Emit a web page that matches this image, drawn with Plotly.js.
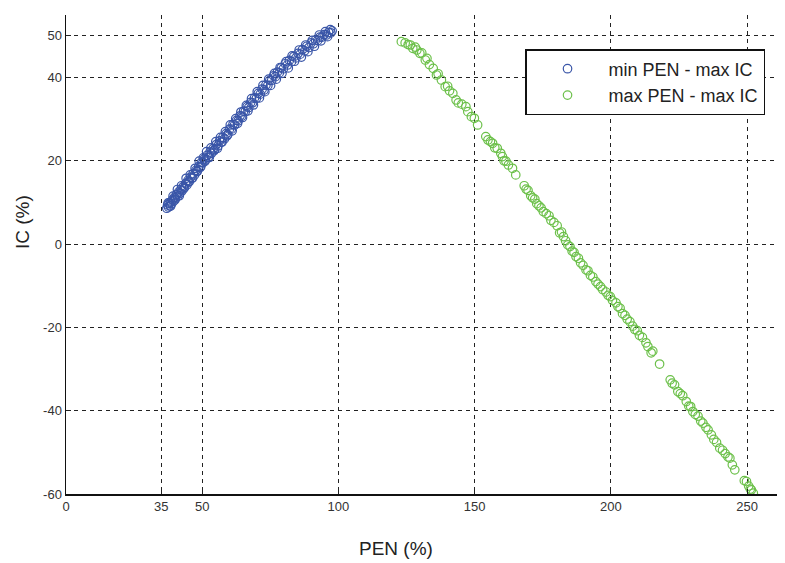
<!DOCTYPE html>
<html>
<head>
<meta charset="utf-8">
<script src="https://cdn.plot.ly/plotly-3.0.1.min.js"></script>
<style>html,body{margin:0;padding:0;background:#fff;}#chart{width:785px;height:563px;}</style>
</head>
<body>
<div id="chart"></div>
<script>
var seriesNames = ["min PEN - max IC", "max PEN - max IC"];

var blueX = [37.0,37.3,37.6,37.9,38.2,38.5,38.8,39.1,39.5,39.8,40.2,40.6,41.0,41.4,41.8,42.2,42.6,43.0,43.5,43.9,44.4,44.8,45.3,45.8,46.2,46.7,47.2,47.7,48.2,48.7,49.2,49.7,50.2,50.7,51.2,51.8,52.3,52.9,53.4,54.0,54.6,55.2,55.8,56.4,57.0,57.6,58.2,58.8,59.4,60.0,60.7,61.3,61.9,62.6,63.2,63.9,64.5,65.2,65.8,66.5,67.1,67.8,68.5,69.2,69.9,70.6,71.3,72.0,72.7,73.4,74.1,74.8,75.5,76.2,76.9,77.6,78.3,79.0,79.8,80.5,81.3,82.0,82.8,83.6,84.4,85.2,86.0,86.8,87.6,88.4,89.2,90.0,90.8,91.6,92.4,93.2,94.0,94.8,95.6,96.4,97.2,97.7,
  37.5,38.4,39.3,40.0,40.9,41.6,42.4,43.2,44.1,44.9,45.6,46.5,47.4,48.0,48.9,49.5,50.4,51.0,51.6,52.6,53.2,54.3,55.0,55.6,56.7,57.3,58.5,59.1,60.3,61.0,62.3,63.0,64.2,64.8,66.2,66.8,68.1,68.8,70.2,71.0,72.3,73.0,74.4,75.1,76.5,77.2,78.6,79.3,80.8,81.6,83.0,83.9,85.6,86.4,88.0,88.8,90.4,91.2,93.0,93.6,95.2,96.0,97.0];
var blueY = [8.6,9.4,8.9,9.8,9.2,10.1,9.7,10.6,10.3,11.2,11.0,11.9,11.5,12.5,12.2,13.1,12.8,13.8,13.6,14.5,14.2,15.3,15.0,16.1,15.8,16.9,16.6,17.7,17.5,18.6,18.4,19.6,19.5,20.4,20.2,21.3,20.9,22.1,21.8,22.9,22.7,23.9,23.6,24.8,24.5,25.6,25.3,26.5,26.3,27.6,27.6,28.7,28.6,29.7,29.6,30.8,30.7,31.9,31.8,33.0,32.8,34.0,33.9,35.1,35.0,36.2,36.0,37.2,37.0,38.2,38.1,39.3,39.3,40.4,40.2,41.3,41.1,42.3,42.1,43.3,43.0,44.1,43.8,45.0,44.7,45.8,45.6,46.7,46.4,47.5,47.2,48.3,48.1,49.0,48.9,49.7,49.7,50.3,50.2,50.8,50.7,51.2,
  9.9,9.1,11.5,10.6,13.1,11.6,14.0,13.3,15.8,14.9,16.6,15.9,18.2,17.4,19.9,18.6,20.7,19.9,22.2,20.8,23.1,22.4,24.6,23.0,25.6,24.5,27.0,26.0,28.6,27.2,30.1,29.0,31.7,30.4,33.3,32.0,34.9,33.4,36.6,35.1,38.1,36.6,39.6,38.1,41.0,39.6,42.4,41.0,43.8,42.3,45.2,43.9,46.6,44.9,47.8,46.2,48.9,47.5,50.2,48.8,51.0,49.8,51.5];

var greenX = [123.1,124.5,125.6,126.4,127.3,128.2,128.8,129.9,130.6,131.9,132.5,133.4,134.8,136.0,136.6,137.8,139.2,140.1,140.8,142.0,143.2,144.0,145.3,146.8,147.5,148.8,149.9,151.1,154.1,154.9,155.8,156.6,157.4,158.3,159.6,160.2,160.8,161.5,162.4,163.9,165.1,168.2,168.9,169.6,170.6,171.3,172.1,172.8,173.6,174.4,175.2,176.3,177.3,178.0,179.1,180.3,181.2,181.9,182.6,183.4,184.2,185.0,185.8,186.5,187.2,188.1,188.9,189.8,190.9,191.6,192.5,193.4,194.5,195.3,196.2,197.0,198.2,199.0,199.8,200.6,201.9,202.6,203.4,204.3,205.2,206.0,207.0,208.0,208.8,209.7,210.5,211.6,212.9,213.6,214.8,215.4,217.9,221.8,222.5,223.4,224.6,225.5,226.4,227.7,228.6,229.3,230.1,231.0,232.0,233.0,233.8,234.9,235.7,236.9,237.8,238.8,240.0,241.0,242.0,243.0,243.7,244.6,245.5,249.0,249.8,250.6,251.2,251.6,252.3];
var greenY = [48.6,48.3,47.9,47.8,47.0,47.3,46.6,45.8,45.9,44.2,44.6,43.1,42.2,40.6,40.9,39.4,37.8,37.9,36.8,36.2,34.6,33.9,33.6,33.0,31.8,30.6,30.2,28.6,25.8,25.0,24.6,24.2,23.1,23.0,21.8,21.0,20.0,19.9,19.0,18.2,16.6,14.0,13.2,12.9,11.6,11.1,10.8,9.7,9.2,8.7,7.8,7.3,6.8,5.7,5.2,4.4,2.7,2.9,1.8,0.8,-0.2,-0.6,-1.7,-2.0,-3.0,-3.4,-4.5,-5.1,-6.2,-6.4,-7.5,-7.9,-9.0,-9.6,-10.2,-10.9,-11.5,-12.3,-12.6,-13.5,-14.1,-15.0,-15.4,-16.7,-17.1,-18.0,-18.6,-19.7,-20.5,-20.8,-21.9,-22.4,-23.7,-24.6,-26.1,-25.7,-28.8,-32.6,-33.4,-33.8,-35.4,-35.9,-36.4,-37.8,-38.9,-39.0,-40.2,-40.9,-41.3,-42.5,-43.0,-44.0,-44.6,-45.8,-46.9,-47.6,-49.0,-49.5,-50.3,-51.1,-51.4,-53.0,-54.2,-56.8,-57.0,-58.1,-58.8,-59.0,-59.8];

var xTicks = [0, 35, 50, 100, 150, 200, 250];
var yTicks = [-60, -40, -20, 0, 20, 40, 50];
var xTitle = "PEN (%)";
var yTitle = "IC (%)";

var blueColor = "#3a56a8";
var greenColor = "#6cc04a";
var fontFam = "Liberation Sans, Arial, sans-serif";

var traces = [
  {x: blueX, y: blueY, type: "scatter", mode: "markers", name: seriesNames[0],
   marker: {symbol: "circle-open", size: 8.5, color: blueColor, line: {width: 1.2, color: blueColor}}},
  {x: greenX, y: greenY, type: "scatter", mode: "markers", name: seriesNames[1],
   marker: {symbol: "circle-open", size: 8.5, color: greenColor, line: {width: 1.2, color: greenColor}}}
];

var axisCommon = {
  showline: true, linecolor: "#111", linewidth: 1.5, mirror: false,
  showgrid: true, gridcolor: "#222", gridwidth: 1, griddash: "4px,4px",
  zeroline: false, ticks: "inside", ticklen: 5, tickcolor: "#222",
  tickfont: {family: fontFam, size: 13, color: "#333"},
  tickmode: "array", fixedrange: true
};

var layout = {
  width: 785, height: 563,
  margin: {l: 66, r: 8, t: 15, b: 69},
  paper_bgcolor: "#fff", plot_bgcolor: "#fff",
  showlegend: true,
  xaxis: Object.assign({}, axisCommon, {range: [0, 261], tickvals: xTicks, ticktext: xTicks.map(String)}),
  yaxis: Object.assign({}, axisCommon, {range: [-60, 55], tickvals: yTicks, ticktext: yTicks.map(String)}),
  legend: {x: 0.6456, y: 0.929, xanchor: "left", yanchor: "top",
    bgcolor: "#fff", bordercolor: "#111", borderwidth: 1.5,
    font: {family: fontFam, size: 18, color: "#222"},
    itemwidth: 72},
  annotations: [
    {text: xTitle, xref: "paper", yref: "paper", x: (396 - 66) / 711, y: -(548 - 494) / 479,
     xanchor: "center", yanchor: "middle", showarrow: false,
     font: {family: fontFam, size: 19, color: "#222"}},
    {text: yTitle, xref: "paper", yref: "paper", x: (22 - 66) / 711, y: 1 - (222 - 15) / 479,
     xanchor: "center", yanchor: "middle", showarrow: false, textangle: -90,
     font: {family: fontFam, size: 19, color: "#222"}}
  ]
};

Plotly.newPlot("chart", traces, layout, {displayModeBar: false, staticPlot: true});
</script>
</body>
</html>
